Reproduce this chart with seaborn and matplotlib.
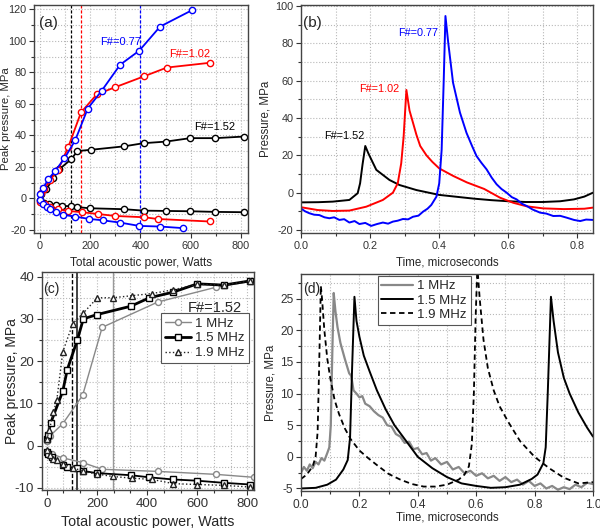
import matplotlib
matplotlib.use("Agg")
import matplotlib.pyplot as plt
from matplotlib.ticker import MultipleLocator, FormatStrFormatter
import seaborn as sns

# ---------------- (a) peak pressure vs power, three F-numbers ----------------
a_blue_up_x = [0, 13, 33, 60, 97, 140, 190, 246, 319, 395, 478, 605]
a_blue_up_y = [2.7, 6.7, 12.2, 17.3, 25.3, 36.8, 57, 68.4, 84.8, 93.7, 109, 119.4]
a_blue_lo_x = [0, 10, 27, 40, 64, 93, 140, 193, 252, 319, 395, 478, 569]
a_blue_lo_y = [-1, -3.5, -5.7, -7, -8.8, -10.5, -11.6, -13, -14, -15.4, -17.5, -17.9, -18.9]
a_red_up_x = [4, 17, 40, 73, 113, 163, 226, 299, 415, 505, 675]
a_red_up_y = [3.2, 5.9, 11.6, 18.3, 32.8, 54.5, 66, 70.5, 77.5, 83, 86]
a_red_lo_x = [0, 20, 40, 73, 113, 166, 229, 299, 415, 468, 675]
a_red_lo_y = [-2.3, -3.8, -5.7, -7, -8, -8.8, -9.9, -11.2, -12, -13.1, -14.7]
a_blk_up_x = [3, 25, 53, 77, 124, 149, 202, 335, 412, 501, 598, 698, 811]
a_blk_up_y = [3, 5.7, 12.8, 18.5, 24.8, 30, 30.8, 33, 35, 36, 38.2, 38.2, 39.2]
a_blk_lo_x = [0, 15, 35, 64, 86, 124, 149, 199, 335, 412, 501, 598, 698, 811]
a_blk_lo_y = [-1, -2.8, -3.6, -4.2, -4.8, -5, -5.6, -6.3, -6.9, -7.8, -8, -8.2, -8.6, -8.8]
a_thresholds = [124, 163, 400]  # black, red, blue

# ---------------- (b) focal waveforms ----------------
b_blk_t = [0, 0.05, 0.092, 0.14, 0.164, 0.171, 0.178, 0.186, 0.195, 0.218, 0.256, 0.285,
           0.334, 0.40, 0.45, 0.50, 0.55, 0.60, 0.65, 0.70, 0.75, 0.79, 0.82, 0.845]
b_blk_p = [-5.2, -5.1, -4.8, -3.9, -0.3, 5, 15, 25, 21, 12.2, 6.8, 4.1,
           1.4, -1.2, -2.2, -3.2, -4.0, -4.6, -5, -5, -4.6, -3.6, -2.1, 0]
b_red_t = [0, 0.048, 0.092, 0.14, 0.189, 0.237, 0.266, 0.28, 0.29, 0.297, 0.305, 0.314,
           0.334, 0.345, 0.363, 0.38, 0.40, 0.44, 0.48, 0.53, 0.576, 0.614, 0.653, 0.70,
           0.76, 0.82, 0.845]
b_red_p = [-7.8, -9.3, -9.8, -9.6, -7.5, -3.9, 0, 5, 15.7, 30, 55, 44,
           31, 25, 20, 16.5, 13, 9, 5.5, 2, -2.7, -5.4, -7.3, -8.4,
           -8.8, -8.6, -8]
b_blu_t = [0, 0.012, 0.024, 0.038, 0.053, 0.068, 0.082, 0.096, 0.111, 0.125, 0.14, 0.155,
           0.169, 0.186, 0.203, 0.22, 0.237, 0.252, 0.266, 0.28, 0.295, 0.31, 0.324, 0.34,
           0.353, 0.366, 0.377, 0.392, 0.40, 0.407, 0.413, 0.418, 0.426, 0.44, 0.46, 0.479,
           0.495, 0.508, 0.522, 0.537, 0.552, 0.566, 0.58, 0.595, 0.61, 0.624, 0.64, 0.653,
           0.67, 0.692, 0.71, 0.73, 0.75, 0.769, 0.79, 0.808, 0.825, 0.845]
b_blu_p = [-8.5, -10, -11, -11.8, -12, -13.2, -13.7, -13.2, -14.6, -14.2, -16, -15.2,
           -16.8, -16.2, -17.8, -16.8, -16, -16.6, -15.5, -15, -14.1, -14.3, -12.9, -12.3,
           -10.2, -8.6, -6.6, -2.1, 5, 22.9, 60, 94.6, 80.4, 58.9, 42.9, 32,
           25, 19.6, 16, 12.5, 8, 4.5, 2, 0, -2.4, -3.6, -6, -7.1,
           -9, -10.7, -11.2, -12.5, -12.4, -13.4, -14.6, -15.2, -14.4, -14.6]
b_labels = [("F#=0.77", 0.339, 85.5, "#0000ff"),
            ("F#=1.02", 0.227, 55.5, "#ff0000"),
            ("F#=1.52", 0.125, 30.5, "black")]

# ---------------- (c) F#=1.52, three frequencies ----------------
c_1_up_x = [0, 13, 64, 143, 221, 443, 675, 826]
c_1_up_y = [1.2, 2.3, 5.2, 11.9, 28, 34, 37.5, 39]
c_1_lo_x = [0, 20, 64, 143, 221, 443, 675, 826]
c_1_lo_y = [-1.5, -2, -2.9, -4, -5.6, -6.1, -6.8, -7.5]
c_15_up_x = [0, 5, 16, 64, 82, 122, 146, 199, 335, 409, 502, 600, 705, 811]
c_15_up_y = [1.5, 2.5, 5.4, 12.9, 18, 25, 30, 31, 33, 35, 36.3, 38.3, 38, 39]
c_15_lo_x = [0, 7, 20, 64, 82, 122, 146, 199, 335, 409, 502, 600, 705, 811]
c_15_lo_y = [-1.4, -1.9, -2.7, -4.6, -5, -5.4, -6, -6.5, -7, -7.5, -8, -8.3, -8.8, -9.2]
c_19_up_x = [0, 11, 27, 40, 64, 104, 146, 202, 263, 340, 420, 505, 600, 705, 811]
c_19_up_y = [1.5, 3.8, 8, 10.7, 22.2, 28.9, 31.4, 35, 35, 35.5, 36, 36.9, 38.2, 38, 39]
c_19_lo_x = [0, 13, 27, 42, 64, 104, 146, 199, 263, 340, 420, 505, 600, 705, 811]
c_19_lo_y = [-1.1, -2.3, -3.1, -3.4, -4.4, -5.2, -6.1, -6.7, -7.3, -7.7, -8, -9, -9.2, -9.4, -9.8]
c_thresholds = [100, 120, 265]  # 1.9 MHz, 1.5 MHz, 1 MHz

# ---------------- (d) waveforms at three frequencies ----------------
d_1_t = [0, 0.01, 0.02, 0.03, 0.04, 0.05, 0.06, 0.07, 0.08, 0.09, 0.097, 0.102, 0.107, 0.112,
         0.118, 0.125, 0.135, 0.15, 0.165, 0.172, 0.18, 0.19, 0.2, 0.21, 0.22, 0.235, 0.25,
         0.265, 0.28, 0.295, 0.31, 0.325, 0.34, 0.355, 0.37, 0.385, 0.40, 0.415, 0.43, 0.445,
         0.46, 0.48, 0.5, 0.52, 0.54, 0.56, 0.58, 0.60, 0.62, 0.64, 0.66, 0.68, 0.70, 0.72,
         0.74, 0.76, 0.78, 0.80, 0.82, 0.84, 0.86, 0.88, 0.9, 0.92, 0.94, 0.96, 0.98, 1.0]
d_1_p = [-2.5, -1.6, -2.2, -1.2, -1.8, -0.8, -1.2, -0.2, -0.6, 0.6, 1.5, 5, 16, 25.9,
         23, 20.5, 18, 15.5, 13.2, 12.8, 10.5, 10, 9.4, 9.6, 8.4, 8, 7.2,
         6.6, 6.2, 5, 4.8, 3.6, 3.2, 2.2, 2.4, 1.2, 1.4, 0.4, 0.6, -0.6,
         -0.2, -1.2, -0.8, -2, -1.6, -2.6, -2.2, -3, -2.6, -3.4, -3, -3.8, -3.2, -4,
         -3.6, -4.4, -3.8, -4.6, -4.2, -5, -4.6, -5.2, -4.8, -5.1, -4.4, -4.8, -4.1, -4.3]
d_15_t = [0, 0.05, 0.09, 0.12, 0.145, 0.16, 0.168, 0.175, 0.183, 0.19, 0.2, 0.215, 0.235,
          0.26, 0.29, 0.32, 0.36, 0.40, 0.45, 0.50, 0.55, 0.60, 0.65, 0.70, 0.75, 0.79,
          0.81, 0.83, 0.838, 0.845, 0.856, 0.865, 0.88, 0.90, 0.92, 0.95, 0.98, 1.0]
d_15_p = [-5, -4.9, -4.4, -3.6, -2, -0.5, 3, 14, 25.3, 21.5, 19, 16, 13.5,
          10.5, 7.5, 5, 2.5, 0, -1.8, -3.2, -4.2, -4.6, -4.9, -4.8, -4.4, -3.5,
          -2.8, -1, 1.5, 10, 25.3, 21.5, 16.5, 12.5, 10, 7, 4.6, 3.2]
d_19_t = [0, 0.02, 0.04, 0.05, 0.057, 0.062, 0.068, 0.072, 0.08, 0.09, 0.1, 0.115, 0.13,
          0.15, 0.17, 0.2, 0.23, 0.26, 0.3, 0.34, 0.38, 0.42, 0.46, 0.5, 0.54, 0.56, 0.575,
          0.585, 0.592, 0.598, 0.604, 0.612, 0.625, 0.64, 0.66, 0.68, 0.71, 0.75, 0.8, 0.85,
          0.9, 0.95, 1.0]
d_19_p = [-3.5, -2.8, -1.5, 0, 4, 14, 27, 25, 20, 15.5, 12.5, 9, 6.8,
          4.5, 2.8, 1, -0.2, -1.3, -2.7, -3.6, -4.3, -4.7, -4.7, -4.4, -3.6, -2.8, -1.5,
          2, 10, 22, 30, 25, 18.5, 14, 10.5, 8, 5.5, 2.5, 0, -1.8,
          -3.3, -4.2, -4]

BLUE = "#0000ff"
RED = "#ff0000"
GREY = "#888888"

sns.set_theme(style="ticks")
plt.rcParams["font.family"] = ["Liberation Sans", "DejaVu Sans"]
plt.rcParams["axes.unicode_minus"] = False


def style(ax, xmaj, xmin, ymaj, ymin, fs):
    ax.xaxis.set_major_locator(MultipleLocator(xmaj))
    ax.xaxis.set_minor_locator(MultipleLocator(xmin))
    ax.yaxis.set_major_locator(MultipleLocator(ymaj))
    ax.yaxis.set_minor_locator(MultipleLocator(ymin))
    ax.grid(True, which="both", color="#b8b8b8", linestyle=":", linewidth=0.8)
    ax.set_axisbelow(True)
    ax.tick_params(which="both", direction="out", top=False, right=False,
                   width=0.8, colors="#333333", labelsize=fs, pad=2)
    ax.tick_params(which="major", length=3.5)
    ax.tick_params(which="minor", length=2)
    for s in ax.spines.values():
        s.set_color("#444444")
        s.set_linewidth(1.0)


def mline(ax, x, y, color, marker="o", lw=1.3, ms=4.5, ls="-", label=None):
    sns.lineplot(x=x, y=y, ax=ax, color=color, linewidth=lw, linestyle=ls,
                 marker=marker, markersize=ms, markerfacecolor="white",
                 markeredgecolor=color, markeredgewidth=1.0,
                 estimator=None, sort=False, label=label, legend=False)


def wave(ax, t, p, color, lw=1.4, ls="-", label=None):
    sns.lineplot(x=t, y=p, ax=ax, color=color, linewidth=lw, linestyle=ls,
                 estimator=None, sort=False, label=label, legend=False)


fig = plt.figure(figsize=(6, 5.28), dpi=100)
ax_a = fig.add_axes([34 / 600, 1 - 233 / 528, 214 / 600, 228 / 528])
ax_b = fig.add_axes([301 / 600, 1 - 233 / 528, 292 / 600, 228 / 528])
ax_c = fig.add_axes([41.7 / 600, 1 - 490 / 528, 212.3 / 600, 218 / 528])
ax_d = fig.add_axes([301 / 600, 1 - 491 / 528, 292 / 600, 217 / 528])

# ---- (a)
for xv, c in zip(a_thresholds, ["black", RED, BLUE]):
    ax_a.axvline(xv, color=c, linestyle=(0, (2.5, 1.5)), linewidth=0.9)
mline(ax_a, a_blk_up_x, a_blk_up_y, "black")
mline(ax_a, a_blk_lo_x, a_blk_lo_y, "black")
mline(ax_a, a_red_up_x, a_red_up_y, RED)
mline(ax_a, a_red_lo_x, a_red_lo_y, RED)
mline(ax_a, a_blue_up_x, a_blue_up_y, BLUE)
mline(ax_a, a_blue_lo_x, a_blue_lo_y, BLUE)
ax_a.text(319, 99, "F#=0.77", color=BLUE, fontsize=8, ha="center", va="center")
ax_a.text(594, 91.5, "F#=1.02", color=RED, fontsize=8, ha="center", va="center")
ax_a.text(694, 45.3, "F#=1.52", color="black", fontsize=8, ha="center", va="center")
ax_a.set_xlim(-24, 828)
ax_a.set_ylim(-22, 122.7)
style(ax_a, 200, 100, 20, 10, 7.8)
ax_a.set_xlabel("Total acoustic power, Watts", fontsize=8.5)
ax_a.set_ylabel("Peak pressure, MPa", fontsize=8.2)
ax_a.xaxis.set_label_coords(0.5, -0.105)
ax_a.yaxis.set_label_coords(-0.108, 0.5)
ax_a.text(0.025, 0.92, "(a)", transform=ax_a.transAxes, fontsize=11, va="center")

# ---- (b)
wave(ax_b, b_blk_t, b_blk_p, "black")
wave(ax_b, b_red_t, b_red_p, RED)
wave(ax_b, b_blu_t, b_blu_p, BLUE)
for txt, tx, ty, c in b_labels:
    ax_b.text(tx, ty, txt, color=c, fontsize=7.8, ha="center", va="center")
ax_b.set_xlim(0, 0.845)
ax_b.set_ylim(-21.6, 100.5)
style(ax_b, 0.2, 0.1, 20, 10, 7.8)
ax_b.xaxis.set_major_formatter(FormatStrFormatter("%.1f"))
ax_b.set_xlabel("Time, microseconds", fontsize=8.3)
ax_b.set_ylabel("Pressure, MPa", fontsize=8.3)
ax_b.xaxis.set_label_coords(0.5, -0.105)
ax_b.yaxis.set_label_coords(-0.1, 0.5)
ax_b.text(0.008, 0.92, "(b)", transform=ax_b.transAxes, fontsize=11, va="center")

# ---- (c)
ax_c.axvline(c_thresholds[0], color="black", linestyle=(0, (3, 1.5)), linewidth=1.0)
ax_c.axvline(c_thresholds[1], color="#333333", linestyle="-", linewidth=1.3)
ax_c.axvline(c_thresholds[2], color="#999999", linestyle="-", linewidth=1.0)
mline(ax_c, c_1_up_x, c_1_up_y, GREY, lw=1.0, ms=4.3, label="1 MHz")
mline(ax_c, c_1_lo_x, c_1_lo_y, GREY, lw=1.0, ms=4.3)
mline(ax_c, c_15_up_x, c_15_up_y, "black", marker="s", lw=2.0, ms=4.0, label="1.5 MHz")
mline(ax_c, c_15_lo_x, c_15_lo_y, "black", marker="s", lw=1.3, ms=4.0)
mline(ax_c, c_19_up_x, c_19_up_y, "#222222", marker="^", lw=1.0, ms=4.5, ls=":",
      label="1.9 MHz")
mline(ax_c, c_19_lo_x, c_19_lo_y, "#222222", marker="^", lw=1.0, ms=4.5, ls=":")
ax_c.set_xlim(-20, 826)
ax_c.set_ylim(-10.5, 41.1)
style(ax_c, 200, 200 / 3, 10, 5, 9.5)
ax_c.set_xlabel("Total acoustic power, Watts", fontsize=10.3)
ax_c.set_ylabel("Peak pressure, MPa", fontsize=10)
ax_c.xaxis.set_label_coords(0.5, -0.115)
ax_c.yaxis.set_label_coords(-0.108, 0.5)
leg_c = ax_c.legend(loc="upper right", bbox_to_anchor=(0.975, 0.81), fontsize=9.5,
                    frameon=True, fancybox=False, framealpha=1, edgecolor="#555555",
                    handlelength=2.0, handletextpad=0.3, borderpad=0.3, labelspacing=0.2,
                    borderaxespad=0)
leg_c.get_frame().set_linewidth(0.8)
ax_c.text(0.815, 0.835, "F#=1.52", transform=ax_c.transAxes, fontsize=10.5,
          ha="center", va="center")
ax_c.text(0.008, 0.92, "(c)", transform=ax_c.transAxes, fontsize=10, va="center")

# ---- (d)
wave(ax_d, d_1_t, d_1_p, GREY, lw=1.6, label="1 MHz")
wave(ax_d, d_15_t, d_15_p, "black", lw=1.4, label="1.5 MHz")
wave(ax_d, d_19_t, d_19_p, "black", lw=1.3, ls=(0, (3, 2)), label="1.9 MHz")
ax_d.set_xlim(0, 1.0)
ax_d.set_ylim(-5.4, 28.9)
style(ax_d, 0.2, 0.1, 5, 2.5, 8.6)
ax_d.xaxis.set_major_formatter(FormatStrFormatter("%.1f"))
ax_d.set_xlabel("Time, microseconds", fontsize=8.3)
ax_d.set_ylabel("Pressure, MPa", fontsize=8.3)
ax_d.xaxis.set_label_coords(0.5, -0.095)
ax_d.yaxis.set_label_coords(-0.083, 0.5)
leg_d = ax_d.legend(loc="upper left", bbox_to_anchor=(0.262, 0.99), fontsize=9.5,
                    frameon=True, fancybox=False, framealpha=1, edgecolor="#555555",
                    handlelength=2.4, handletextpad=0.3, borderpad=0.3, labelspacing=0.15,
                    borderaxespad=0)
leg_d.get_frame().set_linewidth(0.8)
ax_d.text(0.008, 0.93, "(d)", transform=ax_d.transAxes, fontsize=10, va="center")

fig.savefig("out.png", dpi=100)
